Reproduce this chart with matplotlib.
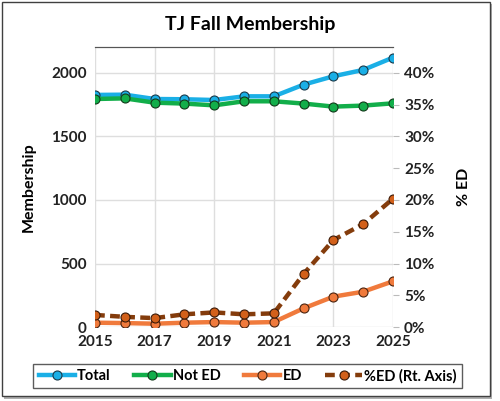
import matplotlib.pyplot as plt
from matplotlib.patches import Rectangle
from matplotlib.ticker import FuncFormatter

plt.rcParams['font.family'] = ['Lato', 'DejaVu Sans']

# 데이터
years = [2015, 2016, 2017, 2018, 2019, 2020, 2021, 2022, 2023, 2024, 2025]
total = [1827, 1829, 1795, 1793, 1787, 1816, 1816, 1908, 1974, 2024, 2121]
not_ed = [1795, 1800, 1766, 1759, 1745, 1777, 1777, 1759, 1735, 1743, 1761]
ed = [34, 31, 26, 34, 39, 34, 39, 147, 239, 278, 360]
pct_ed = [1.9, 1.6, 1.4, 2.0, 2.3, 2.0, 2.15, 8.35, 13.7, 16.2, 20.2]

fig = plt.figure(figsize=(5, 4.01), dpi=100)

# 바깥 테두리 + 그림자
fig.patches.append(Rectangle((0.008, 0.005), 0.976, 0.985, transform=fig.transFigure,
                             facecolor='#b0b0b0', edgecolor='none', zorder=-2))
fig.patches.append(Rectangle((0.004, 0.012), 0.976, 0.983, transform=fig.transFigure,
                             facecolor='white', edgecolor='#404040', lw=1.0, zorder=-1))

ax = fig.add_axes([0.19, 0.1845, 0.596, 0.6985])
ax2 = ax.twinx()

ax.plot(years, total, color='#1AAFE6', lw=3.2, marker='o', ms=6.5,
        mfc='#1AAFE6', mec='#1a3a4a', mew=0.8, label='Total', zorder=4)
ax.plot(years, not_ed, color='#12AE4A', lw=3.2, marker='o', ms=6.5,
        mfc='#12AE4A', mec='#123a1a', mew=0.8, label='Not ED', zorder=4)
ax.plot(years, ed, color='#F07A3C', lw=3.2, marker='o', ms=6.5,
        mfc='#F07A3C', mec='#4a2410', mew=0.8, label='ED', zorder=4)
l4, = ax2.plot(years, pct_ed, color='#843C0C', lw=3.2, ls=(0, (2.2, 1.2)), marker='o', ms=6.5,
               mfc='#D2601A', mec='#3a1a08', mew=0.8, label='%ED (Rt. Axis)', zorder=4)

ax.set_xlim(2015, 2025)
ax.set_ylim(0, 2205)
ax2.set_ylim(0, 44.1)
ax.set_xticks(range(2015, 2026, 2))
ax.set_yticks(range(0, 2001, 500))
ax2.set_yticks(range(0, 41, 5))
ax2.yaxis.set_major_formatter(FuncFormatter(lambda v, p: f'{v:.0f}%'))

ax.grid(True, color='#dedede', lw=1.0)
ax.set_axisbelow(True)
for s in ['left', 'right', 'bottom']:
    ax.spines[s].set_visible(False)
    ax2.spines[s].set_visible(False)
ax.spines['top'].set_color('#555555')
ax2.spines['top'].set_color('#555555')
ax.tick_params(axis='both', length=0, labelsize=11, pad=6)
ax2.tick_params(axis='y', length=4, color='#bbbbbb', labelsize=11, pad=4)
for lab in ax.get_xticklabels() + ax.get_yticklabels() + ax2.get_yticklabels():
    lab.set_fontweight('bold')
    lab.set_color('#222222')

ax.set_ylabel('Membership', fontsize=11.5, fontweight='bold', labelpad=11)
ax2.set_ylabel('% ED', fontsize=11.5, fontweight='bold', labelpad=16)
fig.text(0.5, 0.938, 'TJ Fall Membership', ha='center', va='center',
         fontsize=14, fontweight='bold')

h, l = ax.get_legend_handles_labels()
leg = fig.legend(h + [l4], l + ['%ED (Rt. Axis)'], loc='center', ncol=4,
                 bbox_to_anchor=(0.495, 0.0625), frameon=True, fancybox=False,
                 edgecolor='#333333', fontsize=10.5, handlelength=2.5,
                 columnspacing=1.6, handletextpad=0.15, borderpad=0.35,
                 borderaxespad=0)
leg.get_frame().set_linewidth(1.0)
for t in leg.get_texts():
    t.set_fontweight('bold')

fig.savefig('out.png', dpi=100)
